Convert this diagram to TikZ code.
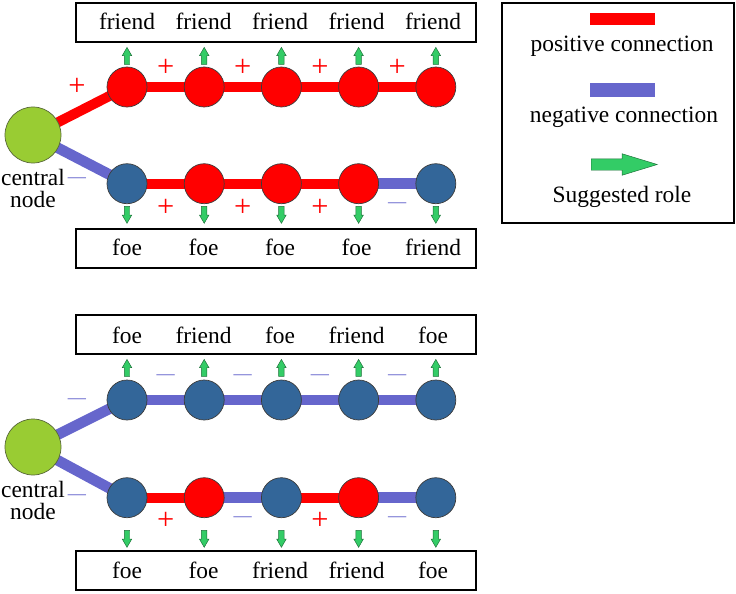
\documentclass[tikz,border=0pt]{standalone}
\usepackage{fontspec}
\setmainfont{Liberation Serif}
\usepackage{tikz}
\usetikzlibrary{arrows.meta,positioning,shapes.arrows,backgrounds}
\definecolor{posred}{RGB}{255,0,0}
\definecolor{negblue}{RGB}{102,102,204}
\definecolor{nodeblue}{RGB}{51,102,153}
\definecolor{hubgreen}{RGB}{153,204,51}
\definecolor{rolegreen}{RGB}{51,204,102}
\definecolor{rimgray}{RGB}{60,60,60}

\begin{document}
\begin{tikzpicture}[x=0.03cm, y=-0.03cm, node distance=1.095cm]
\tikzset{
  member/.style={circle, draw=rimgray, line width=0.6pt, minimum size=1.2cm, inner sep=0pt},
  posnode/.style={member, fill=posred},
  negnode/.style={member, fill=nodeblue},
  hub/.style={circle, draw=rimgray!70!hubgreen, line width=0.6pt, fill=hubgreen, minimum size=1.68cm, inner sep=0pt},
  posedge/.style={draw=posred, line width=0.3cm},
  negedge/.style={draw=negblue, line width=0.32cm},
  rolebox/.style={draw, line width=1.8pt, minimum width=12cm, minimum height=1.17cm, inner sep=0pt},
  role/.style={font=\fontsize{20}{18.7}\selectfont, anchor=base, inner sep=0pt},
  plus/.style={text=posred, font=\fontsize{26}{26}\selectfont, inner sep=0pt},
  minus/.style={text=negblue, font=\fontsize{15.5}{16}\selectfont, inner sep=0pt},
  hint/.style={single arrow, fill=rolegreen, draw=rolegreen!55!black, line width=0.4pt, minimum height=0.51cm, minimum width=0.27cm, inner xsep=0pt, inner ysep=0.075cm, single arrow head extend=0.06cm, single arrow tip angle=60, anchor=tail},
  uphint/.style={hint, rotate=90},
  downhint/.style={hint, rotate=-90}
}
\useasboundingbox (0,0) rectangle (736,593);

% upper panel
\node[hub] (c1) at (33,135) {};
\node[role, align=center, anchor=north] (cn1) at (33,169) {central\\node};
\node[posnode] (a1) at (127,87) {};
\node[posnode, right=of a1] (a2) {};
\node[posnode, right=of a2] (a3) {};
\node[posnode, right=of a3] (a4) {};
\node[posnode, right=of a4] (a5) {};
\node[negnode, below=1.68cm of a1] (b1) {};
\node[posnode, right=of b1] (b2) {};
\node[posnode, right=of b2] (b3) {};
\node[posnode, right=of b3] (b4) {};
\node[negnode, right=of b4] (b5) {};

\begin{scope}[on background layer]
\draw[posedge] (c1.center) -- node[plus, xshift=-0.09cm, yshift=0.72cm] (p1) {+} (a1.center);
\draw[posedge] (a1.center) -- node[plus, yshift=0.57cm] (p2) {+} (a2.center);
\draw[posedge] (a2.center) -- node[plus, yshift=0.57cm] (p3) {+} (a3.center);
\draw[posedge] (a3.center) -- node[plus, yshift=0.57cm] (p4) {+} (a4.center);
\draw[posedge] (a4.center) -- node[plus, yshift=0.57cm] (p5) {+} (a5.center);
\draw[negedge] (c1.center) -- node[minus, xshift=-0.09cm, yshift=-0.63cm] (m1) {—} (b1.center);
\draw[posedge] (b1.center) -- node[plus, yshift=-0.72cm] (p6) {+} (b2.center);
\draw[posedge] (b2.center) -- node[plus, yshift=-0.72cm] (p7) {+} (b3.center);
\draw[posedge] (b3.center) -- node[plus, yshift=-0.72cm] (p8) {+} (b4.center);
\draw[negedge] (b4.center) -- node[minus, yshift=-0.63cm] (m2) {—} (b5.center);
\end{scope}

\node[rolebox] (ub1) at (276,22.5) {};
\node[role] (t1) at (127,30) {friend};
\node[role] (t2) at (203.5,30) {friend};
\node[role] (t3) at (280,30) {friend};
\node[role] (t4) at (356.5,30) {friend};
\node[role] (t5) at (433,30) {friend};
\node[uphint] (ua1) at ([yshift=0.06cm]a1.north) {};
\node[uphint] (ua2) at ([yshift=0.06cm]a2.north) {};
\node[uphint] (ua3) at ([yshift=0.06cm]a3.north) {};
\node[uphint] (ua4) at ([yshift=0.06cm]a4.north) {};
\node[uphint] (ua5) at ([yshift=0.06cm]a5.north) {};

\node[rolebox] (lb1) at (276,248.5) {};
\node[role] (r1) at (127,255) {foe};
\node[role] (r2) at (203.5,255) {foe};
\node[role] (r3) at (280,255) {foe};
\node[role] (r4) at (356.5,255) {foe};
\node[role] (r5) at (433,255) {friend};
\node[downhint] (db1) at ([yshift=-0.06cm]b1.south) {};
\node[downhint] (db2) at ([yshift=-0.06cm]b2.south) {};
\node[downhint] (db3) at ([yshift=-0.06cm]b3.south) {};
\node[downhint] (db4) at ([yshift=-0.06cm]b4.south) {};
\node[downhint] (db5) at ([yshift=-0.06cm]b5.south) {};

% lower panel
\node[hub] (c2) at (33,447) {};
\node[role, align=center, anchor=north] (cn2) at (33,481) {central\\node};
\node[negnode] (d1) at (127,400) {};
\node[negnode, right=of d1] (d2) {};
\node[negnode, right=of d2] (d3) {};
\node[negnode, right=of d3] (d4) {};
\node[negnode, right=of d4] (d5) {};
\node[negnode, below=1.71cm of d1] (e1) {};
\node[posnode, right=of e1] (e2) {};
\node[negnode, right=of e2] (e3) {};
\node[posnode, right=of e3] (e4) {};
\node[negnode, right=of e4] (e5) {};

\begin{scope}[on background layer]
\draw[negedge] (c2.center) -- node[minus, xshift=-0.09cm, yshift=0.68cm] (m3) {—} (d1.center);
\draw[negedge] (d1.center) -- node[minus, yshift=0.69cm] (m4) {—} (d2.center);
\draw[negedge] (d2.center) -- node[minus, yshift=0.69cm] (m5) {—} (d3.center);
\draw[negedge] (d3.center) -- node[minus, yshift=0.69cm] (m6) {—} (d4.center);
\draw[negedge] (d4.center) -- node[minus, yshift=0.69cm] (m7) {—} (d5.center);
\draw[negedge] (c2.center) -- node[minus, xshift=-0.09cm, yshift=-0.75cm] (m8) {—} (e1.center);
\draw[posedge] (e1.center) -- node[plus, yshift=-0.69cm] (p9) {+} (e2.center);
\draw[negedge] (e2.center) -- node[minus, yshift=-0.63cm] (m9) {—} (e3.center);
\draw[posedge] (e3.center) -- node[plus, yshift=-0.69cm] (p10) {+} (e4.center);
\draw[negedge] (e4.center) -- node[minus, yshift=-0.63cm] (m10) {—} (e5.center);
\end{scope}

\node[rolebox] (ub2) at (276,334.8) {};
\node[role] (t6) at (127,343) {foe};
\node[role] (t7) at (203.5,343) {friend};
\node[role] (t8) at (280,343) {foe};
\node[role] (t9) at (356.5,343) {friend};
\node[role] (t10) at (433,343) {foe};
\node[uphint] (ud1) at ([yshift=0.09cm]d1.north) {};
\node[uphint] (ud2) at ([yshift=0.09cm]d2.north) {};
\node[uphint] (ud3) at ([yshift=0.09cm]d3.north) {};
\node[uphint] (ud4) at ([yshift=0.09cm]d4.north) {};
\node[uphint] (ud5) at ([yshift=0.09cm]d5.north) {};

\node[rolebox] (lb2) at (276,570.3) {};
\node[role] (r6) at (127,578) {foe};
\node[role] (r7) at (203.5,578) {foe};
\node[role] (r8) at (280,578) {friend};
\node[role] (r9) at (356.5,578) {friend};
\node[role] (r10) at (433,578) {foe};
\node[downhint] (de1) at ([yshift=-0.36cm]e1.south) {};
\node[downhint] (de2) at ([yshift=-0.36cm]e2.south) {};
\node[downhint] (de3) at ([yshift=-0.36cm]e3.south) {};
\node[downhint] (de4) at ([yshift=-0.36cm]e4.south) {};
\node[downhint] (de5) at ([yshift=-0.36cm]e5.south) {};

% key
\node[draw, line width=1.8pt, minimum width=6.96cm, minimum height=6.6cm, inner sep=0pt] (key) at (618,113) {};
\node[fill=posred, minimum width=1.95cm, minimum height=0.36cm, inner sep=0pt] (kpos) at (622.5,19) {};
\node[role] (kposl) at (622,52) {positive connection};
\node[fill=negblue, minimum width=1.95cm, minimum height=0.42cm, inner sep=0pt] (kneg) at (622.5,90) {};
\node[role] (knegl) at (624,123) {negative connection};
\node[hint, minimum height=1.98cm, minimum width=0.63cm, inner ysep=0.165cm, single arrow head extend=0.15cm, single arrow tip angle=34] (karr) at (591,164.5) {};
\node[role] (karrl) at (622,202) {Suggested role};
\end{tikzpicture}
\end{document}
